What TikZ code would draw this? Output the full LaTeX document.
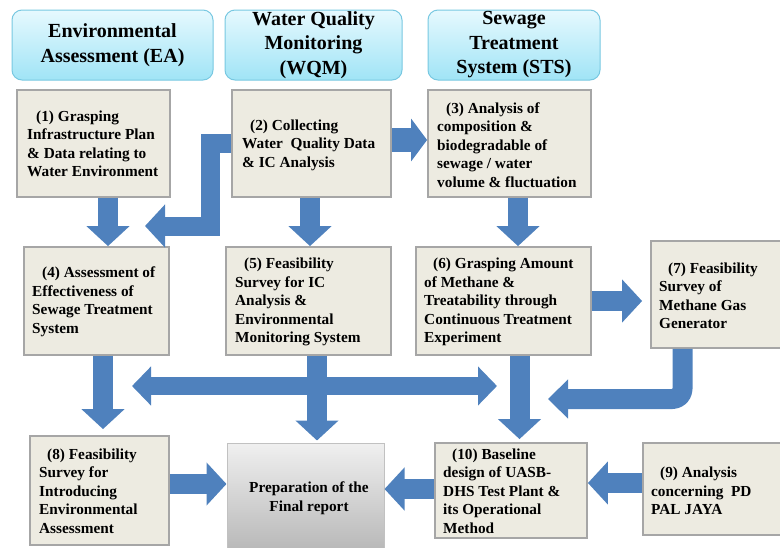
\documentclass[tikz,border=0pt]{standalone}
\usepackage{fontspec}
\setmainfont{Liberation Serif}
\usetikzlibrary{arrows.meta,calc}
\definecolor{arrowblue}{RGB}{79,129,189}
\definecolor{boxfill}{RGB}{237,235,225}
\definecolor{boxline}{RGB}{166,166,166}
\definecolor{hdtop}{RGB}{230,249,254}
\definecolor{hdbot}{RGB}{160,228,246}
\definecolor{hdline}{RGB}{120,200,225}
\begin{document}
\begin{tikzpicture}[x=1pt,y=-1pt,
  hdr/.style={draw=hdline, line width=1pt, rounded corners=10pt, top color=hdtop, bottom color=hdbot, align=center, font=\fontsize{20}{24.5}\selectfont\bfseries, inner sep=0pt},
  stepbox/.style={draw=boxline, line width=1.8pt, fill=boxfill, inner sep=0pt},
  finalbox/.style={draw=boxline!70, line width=1pt, top color=gray!12, bottom color=gray!55, inner sep=0pt},
  txt/.style={anchor=west, align=left, inner sep=0pt, font=\fontsize{15.3}{18.5}\selectfont\bfseries},
  arr/.style={draw=arrowblue, line width=20pt, line join=miter, -{Triangle[width=42pt,length=20pt]}},
]
\useasboundingbox (0,0) rectangle (780,547);

% headers
\node[hdr, minimum width=201pt, minimum height=70pt] (hEA) at (112.5,45) {Environmental\\Assessment (EA)};
\node[hdr, minimum width=177pt, minimum height=70pt] (hWQM) at (313.5,45) {Water Quality\\Monitoring\\(WQM)};
\node[hdr, minimum width=172pt, minimum height=70pt] (hSTS) at (514,45) {Sewage\\Treatment\\System (STS)};

% boxes
\node[stepbox, minimum width=153pt, minimum height=107pt] (n1) at (93.5,143.5) {};
\node[stepbox, minimum width=159pt, minimum height=107pt] (n2) at (311.5,143.5) {};
\node[stepbox, minimum width=163pt, minimum height=107pt] (n3) at (509.5,143.5) {};
\node[stepbox, minimum width=145pt, minimum height=108pt] (n4) at (96.5,301) {};
\node[stepbox, minimum width=165pt, minimum height=108pt] (n5) at (308.5,301) {};
\node[stepbox, minimum width=175pt, minimum height=108pt] (n6) at (503.5,301) {};
\node[stepbox, minimum width=131pt, minimum height=107pt] (n7) at (716.5,294.5) {};
\node[stepbox, minimum width=139pt, minimum height=109pt] (n8) at (99.5,490.5) {};
\node[finalbox, minimum width=157pt, minimum height=106pt] (nf) at (305.5,496) {};
\node[stepbox, minimum width=152pt, minimum height=95pt] (n10) at (511,490.5) {};
\node[stepbox, minimum width=139pt, minimum height=92pt] (n9) at (712.5,489) {};

% texts
\node[txt] (t1) at (27,144) {\hspace*{9pt}(1) Grasping\\Infrastructure Plan\\\& Data relating to\\Water Environment};
\node[txt] (t2) at (242,145) {\hspace*{8pt}(2) Collecting\\Water~ Quality Data\\\& IC Analysis};
\node[txt] (t3) at (437,145) {\hspace*{9pt}(3) Analysis of\\composition \&\\biodegradable of\\sewage / water\\volume \& fluctuation};
\node[txt] (t4) at (32,302) {\hspace*{10pt}(4) Assessment of\\Effectiveness of\\Sewage Treatment\\System};
\node[txt] (t5) at (235,302) {\hspace*{9pt}(5) Feasibility\\Survey for IC\\Analysis \&\\Environmental\\Monitoring System};
\node[txt] (t6) at (424,302) {\hspace*{9pt}(6) Grasping Amount\\of Methane \&\\Treatability through\\Continuous Treatment\\Experiment};
\node[txt] (t7) at (659,296) {\hspace*{9pt}(7) Feasibility\\Survey of\\Methane Gas\\Generator};
\node[txt] (t8) at (39,491) {\hspace*{8pt}(8) Feasibility\\Survey for\\Introducing\\Environmental\\Assessment};
\node[txt, anchor=center, align=center] (tf) at (309,498) {Preparation of the\\Final report};
\node[txt] (t10) at (443,491) {\hspace*{9pt}(10) Baseline\\design of UASB-\\DHS Test Plant \&\\its Operational\\Method};
\node[txt] (t9) at (651,491) {\hspace*{9pt}(9) Analysis\\concerning~ PD\\PAL JAYA};

% free ends
\coordinate (e24) at (145,226);
\coordinate (dl) at (132,386);
\coordinate (dr) at (497,386);
\coordinate (e7) at (548,399);

% arrows
\draw[arr] ([xshift=14.5pt]n1.south) -- ([xshift=11.5pt]n4.north);
\draw[arr, line width=19pt] (n2.west) -- (210,143.5) -- (210,226) -- (e24);
\draw[arr, line width=24pt, -{Triangle[width=42pt,length=16pt]}] ([yshift=3.5pt]n2.east) -- ([yshift=3.5pt]n2.east -| n3.west);
\draw[arr] ([xshift=-1.5pt]n2.south) -- ([xshift=1.5pt]n5.north);
\draw[arr] ([xshift=8.5pt]n3.south) -- ([xshift=14.5pt]n6.north);
\draw[arr] (n6.east) -- ([xshift=-8pt]n7.west |- n6.east);
\draw[arr] ([xshift=6.5pt]n4.south) -- ([xshift=3.5pt,yshift=6pt]n8.north);
\draw[arr] ([xshift=8.5pt]n5.south) -- ([xshift=11.5pt,yshift=2pt]nf.north);
\draw[arr, {Triangle[width=38pt,length=19pt]}-{Triangle[width=38pt,length=19pt]}, line width=18pt] (dl) -- (dr);
\draw[arr] ([xshift=16pt]n6.south) -- ([xshift=8.5pt,yshift=3pt]n10.north);
\draw[arr, line join=round, rounded corners=10pt, -{Triangle[width=38pt,length=20pt]}] ([xshift=-34pt]n7.south) |- (e7);
\draw[arr] ([yshift=6.5pt]n8.east) -- ([yshift=6.5pt]n8.east -| nf.west);
\draw[arr] ([yshift=1.5pt]n10.west) -- ([yshift=1.5pt]n10.west -| nf.east);
\draw[arr] ([yshift=6pt]n9.west) -- ([yshift=6pt]n9.west -| n10.east);
\end{tikzpicture}
\end{document}
